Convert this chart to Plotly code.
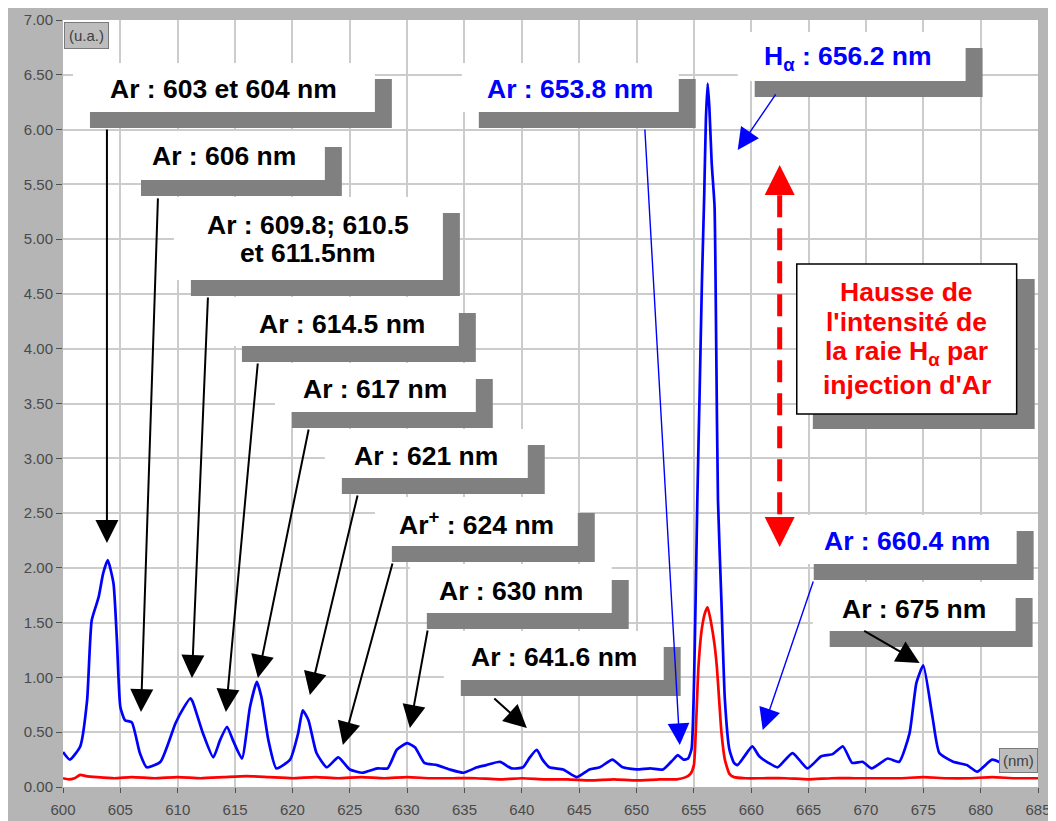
import plotly.graph_objects as go

# ---------------- data ----------------
wl_blue = [600.0, 600.6, 601.5, 602.1, 602.5, 603.1, 603.5, 603.9, 604.4, 604.7,
           605.0, 605.4, 606.0, 606.7, 607.3, 608.5, 609.8, 610.5, 611.1, 611.3,
           612.2, 613.1, 613.7, 614.3, 614.8, 615.6, 616.3, 616.9, 617.3, 617.9,
           618.6, 619.8, 620.5, 620.9, 621.4, 622.1, 623.0, 624.0, 625.0, 626.1,
           627.4, 628.3, 629.1, 630.0, 630.7, 631.5, 632.6, 633.7, 634.9, 636.1,
           636.9, 638.1, 639.1, 640.1, 640.7, 641.3, 641.8, 642.4, 643.6, 644.8,
           645.9, 646.8, 647.9, 648.8, 650.0, 651.2, 652.3, 653.2, 653.6, 654.1,
           654.5, 654.8, 655.0, 655.15, 655.3, 655.5, 655.7, 655.9, 656.05, 656.2,
           656.35, 656.55, 656.8, 656.95, 657.1, 657.4, 657.7, 658.1, 658.5, 658.8,
           659.4, 660.1, 660.7, 661.5, 662.3, 663.6, 664.9, 666.1, 667.1, 668.0,
           668.8, 669.7, 670.5, 671.9, 672.9, 673.8, 674.4, 675.0, 675.8, 676.4,
           677.6, 678.8, 679.7, 681.0, 681.8]
int_blue = [0.32, 0.25, 0.37, 0.79, 1.52, 1.73, 1.95, 2.07, 1.86, 1.34,
            0.73, 0.61, 0.59, 0.31, 0.18, 0.23, 0.58, 0.72, 0.81, 0.78,
            0.49, 0.27, 0.43, 0.55, 0.43, 0.26, 0.73, 0.96, 0.82, 0.43,
            0.17, 0.25, 0.49, 0.70, 0.61, 0.31, 0.18, 0.27, 0.16, 0.13,
            0.17, 0.17, 0.34, 0.40, 0.36, 0.22, 0.20, 0.16, 0.13, 0.18,
            0.20, 0.23, 0.17, 0.18, 0.27, 0.34, 0.25, 0.18, 0.16, 0.09,
            0.16, 0.18, 0.25, 0.18, 0.16, 0.17, 0.16, 0.25, 0.29, 0.25,
            0.26, 0.35, 0.90, 1.70, 2.62, 3.60, 4.60, 5.40, 6.10, 6.42,
            6.20, 5.70, 5.30, 4.00, 2.62, 1.70, 0.80, 0.34, 0.22, 0.20,
            0.28, 0.37, 0.28, 0.22, 0.18, 0.31, 0.17, 0.28, 0.30, 0.37,
            0.22, 0.23, 0.17, 0.26, 0.23, 0.49, 0.95, 1.11, 0.64, 0.31,
            0.23, 0.20, 0.14, 0.25, 0.22]

wl_red = [600.0, 600.5, 601.0, 601.5, 602.0, 603.0, 604.5, 606.0, 608.0, 610.0,
          612.0, 614.0, 616.0, 618.0, 620.0, 622.0, 624.0, 626.0, 628.0, 630.0,
          632.0, 634.0, 636.0, 638.0, 640.0, 642.0, 644.0, 646.0, 648.0, 650.0,
          652.0, 653.5, 654.3, 654.7, 655.0, 655.2, 655.4, 655.7, 656.0, 656.2,
          656.5, 656.8, 657.0, 657.2, 657.4, 657.7, 658.1, 658.5, 659.5, 661.0,
          663.0, 665.0, 667.0, 669.0, 671.0, 673.0, 675.0, 677.0, 679.0, 681.0,
          683.0, 685.0]
int_red = [0.08, 0.07, 0.08, 0.11, 0.10, 0.09, 0.08, 0.09, 0.08, 0.09,
           0.08, 0.09, 0.10, 0.09, 0.08, 0.09, 0.08, 0.09, 0.08, 0.09,
           0.08, 0.08, 0.08, 0.07, 0.08, 0.07, 0.07, 0.06, 0.07, 0.06,
           0.07, 0.07, 0.09, 0.12, 0.20, 0.60, 1.10, 1.45, 1.60, 1.64,
           1.50, 1.30, 1.10, 0.80, 0.50, 0.25, 0.12, 0.09, 0.08, 0.08,
           0.08, 0.07, 0.08, 0.08, 0.08, 0.08, 0.09, 0.08, 0.08, 0.09,
           0.08, 0.08]

x_ticks = list(range(600, 686, 5))
y_ticks = [i * 0.5 for i in range(15)]

# label texts
lab_black = ["Ar : 603 et 604 nm", "Ar : 606 nm", "Ar : 609.8; 610.5", "et 611.5nm",
             "Ar : 614.5 nm", "Ar : 617 nm", "Ar : 621 nm", "Ar<sup>+</sup> : 624 nm",
             "Ar : 630 nm", "Ar : 641.6 nm", "Ar : 675 nm"]
lab_blue = ["Ar : 653.8 nm", "H<sub>α</sub> : 656.2 nm", "Ar : 660.4 nm"]
lab_red = ["Hausse de", "l'intensité de", "la raie H<sub>α</sub> par", "injection d'Ar"]

# ---------------- layout helpers ----------------
FONT = "Liberation Sans, Arial, sans-serif"
FS = 26.5
BLUE = "#0000ff"
RED = "#ff0000"
SHADOW = "#808080"
SDX, SDY = 1.48, 0.146   # shadow offset (nm, u.a.)

fig = go.Figure()
fig.add_trace(go.Scatter(x=wl_red, y=int_red, mode="lines",
                         line=dict(color=RED, width=2.7, shape="spline", smoothing=0.5),
                         hoverinfo="skip"))
fig.add_trace(go.Scatter(x=wl_blue, y=int_blue, mode="lines",
                         line=dict(color=BLUE, width=2.7, shape="spline", smoothing=0.5),
                         hoverinfo="skip"))

shapes = []
annotations = []

# white label boxes: (x0, x1, y_top, y_bottom)
boxes = [
    (600.87, 627.19, 6.608, 6.160),
    (605.32, 622.83, 5.987, 5.540),
    (609.67, 633.12, 5.385, 4.627),
    (614.12, 634.51, 4.472, 4.025),
    (618.48, 635.99, 3.870, 3.423),
    (622.83, 640.52, 3.267, 2.820),
    (627.19, 644.88, 2.647, 2.200),
    (630.24, 647.84, 2.035, 1.588),
    (633.20, 652.37, 1.424, 0.977),
    (634.77, 653.68, 6.608, 6.160),
    (658.82, 678.69, 6.891, 6.443),
    (663.97, 683.14, 2.482, 2.035),
    (665.36, 683.05, 1.871, 1.424),
]
for (x0, x1, yt, yb) in boxes:
    shapes.append(dict(type="rect", xref="x", yref="y", x0=x0 + SDX, x1=x1 + SDX,
                       y0=yb - SDY, y1=yt - SDY, fillcolor=SHADOW, line=dict(width=0),
                       layer="above"))
    shapes.append(dict(type="rect", xref="x", yref="y", x0=x0, x1=x1, y0=yb, y1=yt,
                       fillcolor="white", line=dict(width=0), layer="above"))

# red framed box
rb = (663.97, 683.14, 4.773, 3.404)
shapes.append(dict(type="rect", xref="x", yref="y", x0=rb[0] + 1.40, x1=rb[1] + 1.57,
                   y0=rb[3] - 0.137, y1=rb[2] - 0.137, fillcolor=SHADOW,
                   line=dict(width=0), layer="above"))
shapes.append(dict(type="rect", xref="x", yref="y", x0=rb[0], x1=rb[1], y0=rb[3], y1=rb[2],
                   fillcolor="white", line=dict(width=1.5, color="#000000"), layer="above"))

# red dashed vertical double arrow
shapes.append(dict(type="line", xref="x", yref="y", x0=662.48, x1=662.48, y0=5.40, y1=2.47,
                   line=dict(color=RED, width=5, dash="22px,11px"), layer="above"))

# text positions
black_pos = [(614.03, 6.37), (614.07, 5.76), (621.39, 5.128), (621.39, 4.874),
             (624.31, 4.23), (627.23, 3.628), (631.68, 3.025), (636.03, 2.405),
             (639.04, 1.793), (642.79, 1.182), (674.20, 1.629)]
blue_pos = [(644.23, 6.366), (668.41, 6.649), (673.55, 2.241)]
red_pos = [(673.55, 4.518), (673.55, 4.244), (673.55, 3.961), (673.55, 3.669)]

for txt, (x, y) in zip(lab_black, black_pos):
    annotations.append(dict(x=x, y=y, xref="x", yref="y", text="<b>%s</b>" % txt,
                            showarrow=False, font=dict(family=FONT, size=FS, color="#000000"),
                            xanchor="center", yanchor="middle"))
for txt, (x, y) in zip(lab_blue, blue_pos):
    annotations.append(dict(x=x, y=y, xref="x", yref="y", text="<b>%s</b>" % txt,
                            showarrow=False, font=dict(family=FONT, size=FS, color=BLUE),
                            xanchor="center", yanchor="middle"))
for txt, (x, y) in zip(lab_red, red_pos):
    annotations.append(dict(x=x, y=y, xref="x", yref="y", text="<b>%s</b>" % txt,
                            showarrow=False, font=dict(family=FONT, size=FS, color=RED),
                            xanchor="center", yanchor="middle"))

# arrows: (tail_x, tail_y, tip_x, tip_y, color, width, size)
arrows = [
    (603.83, 6.014, 603.83, 2.227, "#000000", 2, 2.3),
    (608.28, 5.386, 606.80, 0.684, "#000000", 2, 2.3),
    (612.64, 4.481, 611.24, 0.995, "#000000", 2, 2.3),
    (616.99, 3.879, 614.20, 0.684, "#000000", 2, 2.3),
    (621.44, 3.276, 616.99, 0.995, "#000000", 2, 2.3),
    (625.71, 2.674, 621.52, 0.840, "#000000", 2, 2.3),
    (628.76, 2.053, 624.40, 0.383, "#000000", 2, 2.3),
    (631.81, 1.442, 630.24, 0.538, "#000000", 2, 2.3),
    (637.47, 0.821, 640.44, 0.538, "#000000", 2, 2.3),
    (650.72, 6.014, 653.77, 0.383, BLUE, 1.4, 3.1),
    (662.22, 6.334, 658.82, 5.814, BLUE, 1.4, 3.1),
    (665.45, 1.889, 661.00, 0.520, BLUE, 1.4, 3.1),
    (669.72, 1.433, 674.68, 1.132, "#000000", 2, 2.3),
    (662.48, 5.403, 662.48, 5.677, RED, 5, 1.2),
    (662.48, 2.464, 662.48, 2.190, RED, 5, 1.2),
]
for (tx, ty, hx, hy, col, w, s) in arrows:
    annotations.append(dict(x=hx, y=hy, ax=tx, ay=ty, xref="x", yref="y", axref="x",
                            ayref="y", text="", showarrow=True, arrowhead=2,
                            arrowsize=s, arrowwidth=w, arrowcolor=col, standoff=0,
                            startstandoff=0, font=dict(size=1)))

# unit boxes
annotations.append(dict(x=0.001, y=0.998, xref="paper", yref="paper", text="(u.a.)",
                        showarrow=False, xanchor="left", yanchor="top",
                        font=dict(family="Liberation Sans", size=15, color="#404040"),
                        bgcolor="#bdbdbd", bordercolor="#7a7a7a", borderwidth=1, borderpad=4))
annotations.append(dict(x=0.9995, y=0.246, xref="paper", yref="y", text="(nm)",
                        showarrow=False, xanchor="right", yanchor="middle",
                        font=dict(family="Liberation Sans", size=15, color="#404040"),
                        bgcolor="#bdbdbd", bordercolor="#7a7a7a", borderwidth=1, borderpad=3))

tickfont = dict(family="Liberation Sans", size=15, color="#4a4a4a")
fig.update_layout(
    width=1056, height=821,
    margin=dict(l=55, r=26, t=12, b=42, autoexpand=False),
    paper_bgcolor="#b5b5b5",
    plot_bgcolor="white",
    showlegend=False,
    hovermode=False,
    shapes=shapes,
    annotations=annotations,
    xaxis=dict(range=[600, 685], tickvals=x_ticks, ticktext=[str(v) for v in x_ticks],
               showgrid=True, gridcolor="#cccccc", gridwidth=2, zeroline=False,
               showline=False, ticks="outside", ticklen=5, tickcolor="#505050",
               automargin=False, ticklabelstandoff=4, tickfont=tickfont),
    yaxis=dict(range=[0, 7], tickvals=y_ticks, ticktext=["%.2f" % v for v in y_ticks],
               showgrid=True, gridcolor="#cccccc", gridwidth=2, zeroline=False,
               showline=False, ticks="outside", ticklen=6, tickcolor="#505050",
               automargin=False, tickfont=tickfont),
)

fig.write_html("out.html", config={"displayModeBar": False})
